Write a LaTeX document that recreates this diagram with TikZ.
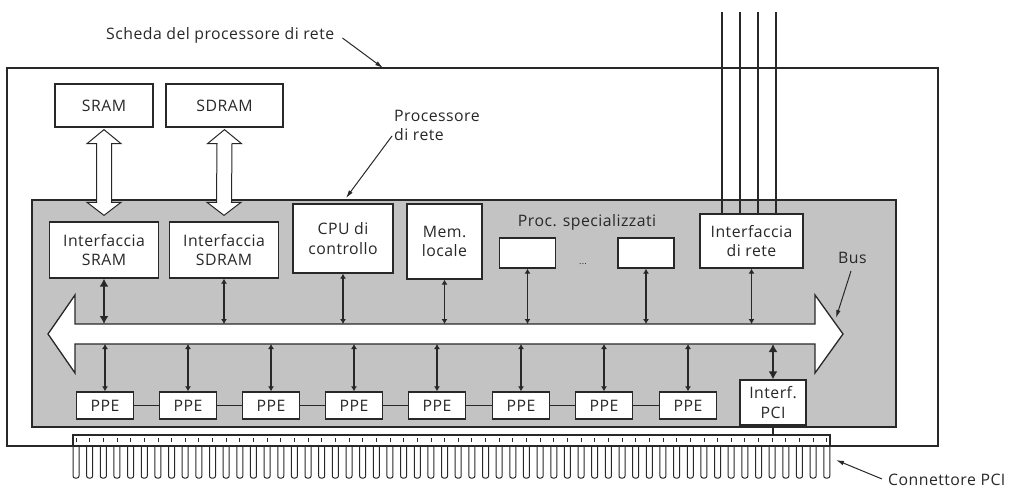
\documentclass[tikz,border=0pt]{standalone}
\usepackage{fontspec}
\setmainfont[LetterSpace=3]{Open Sans}
\usetikzlibrary{arrows.meta}
\definecolor{procgray}{RGB}{195,195,195}
\definecolor{ink}{RGB}{40,40,40}
\newcommand\memlink[2]{%
\draw[hollow] ([yshift=-2pt]#1.south) -- ([xshift=17pt,yshift=-16pt]#1.south) -- ([xshift=7.5pt,yshift=-16pt]#1.south)
 -- ([xshift=7.5pt,yshift=19pt]#2.north) -- ([xshift=17pt,yshift=19pt]#2.north) -- ([yshift=6pt]#2.north)
 -- ([xshift=-17pt,yshift=19pt]#2.north) -- ([xshift=-7.5pt,yshift=19pt]#2.north)
 -- ([xshift=-7.5pt,yshift=-16pt]#1.south) -- ([xshift=-17pt,yshift=-16pt]#1.south) -- cycle;}
\begin{document}
\begin{tikzpicture}[x=1pt,y=-1pt,
  box/.style={draw=ink,fill=white,line width=1.3pt,inner sep=0pt,align=center,font=\fontsize{15.8}{19.5}\selectfont,text=ink},
  lbl/.style={inner sep=0pt,align=left,font=\fontsize{15.8}{19.5}\selectfont,text=ink},
  link/.style={draw=ink,line width=1.5pt,{Latex[length=5pt,width=6pt]}-{Latex[length=5pt,width=6pt]}},
  biglink/.style={draw=ink,line width=1.5pt,{Latex[length=8pt,width=9pt]}-{Latex[length=8pt,width=9pt]}},
  pointer/.style={draw=ink,line width=1pt,-{Latex[length=8pt,width=4.5pt]}},
  hollow/.style={draw=ink,fill=white,line width=1pt},
  wire/.style={draw=ink,line width=1.2pt},
  ppebox/.style={box,minimum width=57pt,minimum height=27pt},
]
\useasboundingbox (0,0) rectangle (1017,489);

% board and processor
\node[draw=ink,line width=1.2pt,fill=white,minimum width=931pt,minimum height=378pt,inner sep=0pt] (board) at (472.5,257) {};
\node[draw=ink,line width=1.4pt,fill=procgray,minimum width=864pt,minimum height=227pt,inner sep=0pt] (proc) at (464,313.5) {};

% memories
\node[box,minimum width=98pt,minimum height=43pt] (sram) at (104,105.5) {SRAM};
\node[box,minimum width=117pt,minimum height=43pt] (sdram) at (224.5,105.5) {SDRAM};

% processor blocks
\node[box,minimum width=109pt,minimum height=56pt] (ifsram) at (104,250) {Interfaccia\\SRAM};
\node[box,minimum width=109pt,minimum height=56pt] (ifsdram) at (224,250) {Interfaccia\\SDRAM};
\node[box,minimum width=100pt,minimum height=69pt] (cpu) at (343,238.5) {CPU di\\controllo};
\node[box,minimum width=75pt,minimum height=75pt] (mem) at (444.5,241.5) {Mem.\\locale};
\node[box,minimum width=56pt,minimum height=30pt] (sp1) at (527.5,253) {};
\node[box,minimum width=56pt,minimum height=30pt] (sp2) at (646,253) {};
\node[lbl] (splbl) at (587,222) {Proc. specializzati};
\node[lbl,font=\fontsize{9}{10}\selectfont] (dots) at (583,264) {...};
\node[box,minimum width=103pt,minimum height=54pt] (netif) at (751.5,241) {Interfaccia\\di rete};

% hollow memory links
\memlink{sram}{ifsram}
\memlink{sdram}{ifsdram}

% network wires
\foreach \k/\wx in {1/722,2/740,3/758,4/776}{
  \coordinate (w\k) at (\wx,12);
  \draw[wire] (w\k) -- (w\k |- netif.north);
}

% bus
\coordinate (busT) at (0,324);
\coordinate (busB) at (0,344);
\draw[draw=ink,fill=white,line width=1.3pt] (48,334) -- (75,295) -- (75,324) -- (815,324) -- (815,295) -- (843,334)
  -- (815,373) -- (815,344) -- (75,344) -- (75,373) -- cycle;

% links from upper blocks to the bus
\draw[biglink] (ifsram.south) -- (ifsram.south |- busT);
\foreach \n in {ifsdram,cpu,mem,sp1,sp2,netif}{
  \draw[link] (\n.south) -- (\n.south |- busT);
}

% PPE row
\foreach \i/\px in {1/105,2/188,3/271,4/354,5/437,6/521,7/604,8/688}{
  \node[ppebox] (ppe\i) at (\px,405.5) {PPE};
  \draw[link] (ppe\i.north |- busB) -- (ppe\i.north);
}
\foreach \i/\j in {1/2,2/3,3/4,4/5,5/6,6/7,7/8}{
  \draw[wire] (ppe\i.east) -- (ppe\j.west);
}
\node[box,minimum width=66pt,minimum height=45pt] (pci) at (773,402.5) {Interf.\\PCI};
\draw[biglink] (pci.north |- busB) -- (pci.north);

% PCI connector
\coordinate (barT) at (0,435);
\draw[wire] (73,446) -- (73,435) -- (830,435) -- (830,446);
\draw[wire] (pci.south) -- (pci.south |- barT);
\foreach \i in {0,...,55}{
  \pgfmathsetmacro\px{76+13.65*\i}
  \draw[draw=ink,line width=1pt,rounded corners=2pt] (\px-3,446) -- (\px-3,478) -- (\px+3,478) -- (\px+3,446);
  \draw[draw=ink,line width=0.8pt] (\px,438) -- (\px,442);
}

% labels and pointers
\node[lbl,anchor=west] (lboard) at (106,35) {Scheda del processore di rete};
\coordinate (boardpt) at (383,68);
\draw[pointer] (lboard.east) ++(8,3) -- (boardpt);
\node[lbl,anchor=north west] (lproc) at (394,110) {Processore\\di rete};
\coordinate (procpt) at (346,198);
\draw[pointer] (392,136) -- (procpt);
\node[lbl,anchor=west] (lbus) at (838,258) {Bus};
\coordinate (buspt) at (836,318);
\draw[pointer] (851,271) -- (buspt);
\node[lbl,anchor=base west] (lpci) at (888,485) {Connettore PCI};
\coordinate (pcipt) at (836,460);
\draw[pointer] (882,479) -- (pcipt);
\end{tikzpicture}
\end{document}
